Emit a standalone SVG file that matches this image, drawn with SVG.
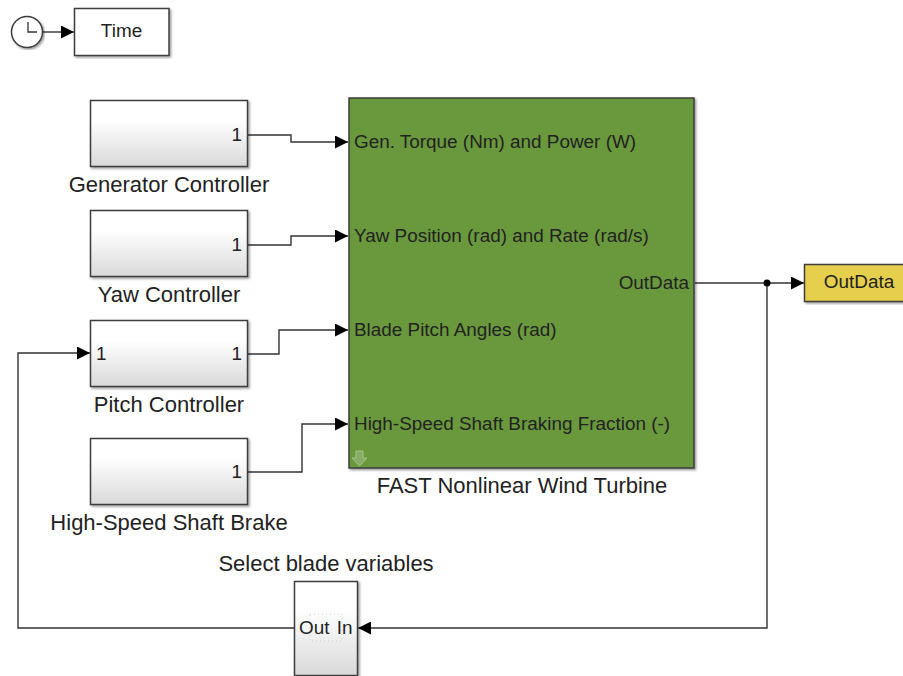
<svg xmlns="http://www.w3.org/2000/svg" width="903" height="676" viewBox="0 0 903 676">
<defs>
<linearGradient id="g" x1="0" y1="0" x2="0" y2="1"><stop offset="0.3" stop-color="#ffffff"/><stop offset="1" stop-color="#d9d9d9"/></linearGradient>
<filter id="s" x="-5%" y="-5%" width="112%" height="112%"><feDropShadow dx="1.5" dy="1.5" stdDeviation="1.2" flood-color="#000" flood-opacity="0.4"/></filter>
<marker id="a" viewBox="0 0 12 12" refX="12" refY="6" markerWidth="13" markerHeight="13" markerUnits="userSpaceOnUse" orient="auto"><path d="M0 0L12 6L0 12z" fill="#000"/></marker>
</defs>
<style>
text{font-family:"Liberation Sans",Arial,sans-serif;font-size:18.9px;fill:#222}
.l{font-size:22px}
.b{stroke:#3c3c3c;stroke-width:1.5;filter:url(#s)}
.sub{fill:url(#g)}
.c{fill:none;stroke:#333;stroke-width:1.4}
.m{text-anchor:middle}
.e{text-anchor:end}
</style>
<g id="connectors">
<path class="c" d="M43 32H74" marker-end="url(#a)"/>
<path class="c" d="M248 135H291V142H348" marker-end="url(#a)"/>
<path class="c" d="M248 245H291V236H348" marker-end="url(#a)"/>
<path class="c" d="M248 354H279V330H348" marker-end="url(#a)"/>
<path class="c" d="M248 472H302V424H348" marker-end="url(#a)"/>
<path class="c" d="M695 283H804" marker-end="url(#a)"/>
<path class="c" d="M767 283V628H358" marker-end="url(#a)"/>
<path class="c" d="M294 628H18V353H90" marker-end="url(#a)"/>
<circle cx="767" cy="283" r="3.500" fill="#000"/>
</g>
<g id="clock">
<circle cx="27" cy="32" r="15.500" fill="#fff" stroke="#3c3c3c" stroke-width="1.500" filter="url(#s)"/>
<path d="M28 22V32H37" fill="none" stroke="#333" stroke-width="1.300"/>
</g>
<g id="time">
<rect class="b" x="74.500" y="8.500" width="94.500" height="47" fill="#fff"/>
<text class="m" x="121.500" y="37">Time</text>
</g>
<g id="generator-controller">
<rect class="b sub" x="90.500" y="100.500" width="157" height="66"/>
<text class="e" x="242" y="141">1</text>
<text class="m l" x="169" y="192">Generator Controller</text>
</g>
<g id="yaw-controller">
<rect class="b sub" x="90.500" y="210.500" width="157" height="66"/>
<text class="e" x="242" y="251">1</text>
<text class="m l" x="169" y="302">Yaw Controller</text>
</g>
<g id="pitch-controller">
<rect class="b sub" x="90.500" y="320.500" width="157" height="66"/>
<text x="96" y="360">1</text>
<text class="e" x="242" y="360">1</text>
<text class="m l" x="169" y="412">Pitch Controller</text>
</g>
<g id="brake">
<rect class="b sub" x="90.500" y="438.500" width="157" height="66"/>
<text class="e" x="242" y="478">1</text>
<text class="m l" x="169" y="530">High-Speed Shaft Brake</text>
</g>
<g id="fast">
<rect class="b" x="349" y="98" width="345" height="370" fill="#6a993c"/>
<text x="354" y="148">Gen. Torque (Nm) and Power (W)</text>
<text x="354" y="242">Yaw Position (rad) and Rate (rad/s)</text>
<text x="354" y="336">Blade Pitch Angles (rad)</text>
<text x="354" y="430">High-Speed Shaft Braking Fraction (-)</text>
<text class="e" x="689" y="289">OutData</text>
<path d="M356 451h7v7h4l-7.500 8-7.500-8h4z" fill="#85ad66" stroke="#a5c48d" stroke-width="1"/>
<text class="m l" x="522" y="493">FAST Nonlinear Wind Turbine</text>
</g>
<g id="outdata">
<rect class="b" x="804.500" y="264.500" width="100" height="37" fill="#e6cf4e"/>
<text class="m" x="859" y="288">OutData</text>
</g>
<g id="select-blade-variables">
<rect class="b" x="294.500" y="581.500" width="63" height="94" fill="url(#g)"/>
<rect x="310" y="614" width="32" height="27" fill="none" stroke="#cfcfcf" stroke-width="1" stroke-dasharray="1 3"/>
<text x="299" y="634">Out</text>
<text class="e" x="352.500" y="634">In</text>
<text class="m l" x="326" y="571">Select blade variables</text>
</g>
</svg>
